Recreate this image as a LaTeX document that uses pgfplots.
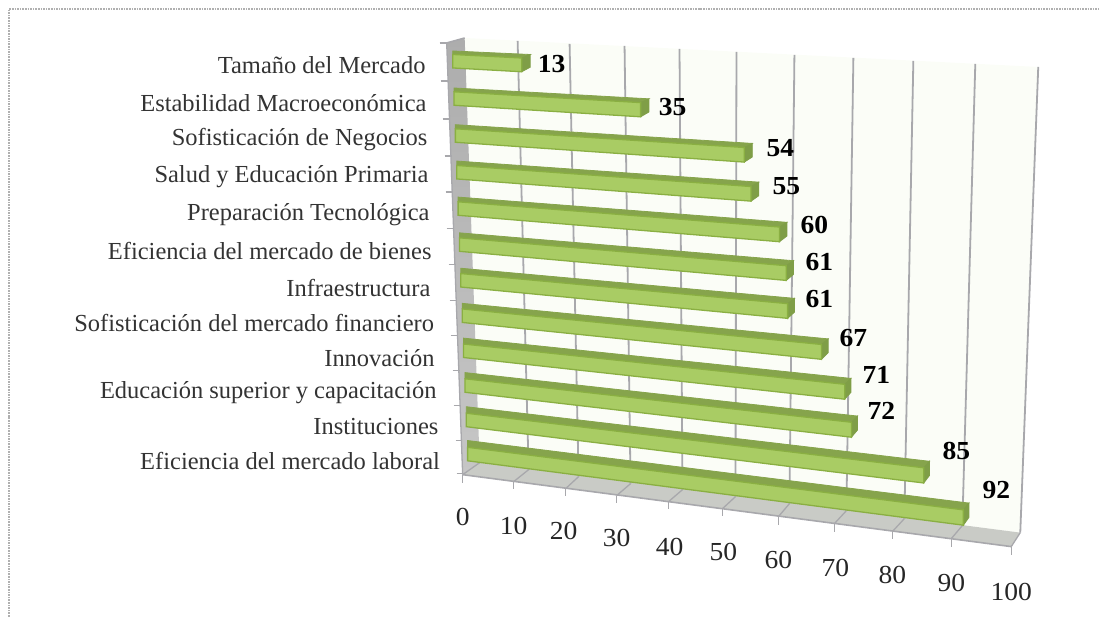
\documentclass[border=0pt]{standalone}
\usepackage{pgfplots}
\pgfplotsset{compat=1.18}
\usepackage{fontspec}
\setmainfont{Liberation Serif}
\newfontfamily\valfont[FakeStretch=1.06]{Liberation Serif Bold}
\newfontfamily\tickfont[FakeStretch=1.06]{Liberation Serif}
\definecolor{barfront}{HTML}{A9CC64}
\definecolor{bartop}{HTML}{86A44C}
\definecolor{barcap}{HTML}{7F9E47}
\definecolor{baredge}{HTML}{8AAF42}
\definecolor{wallside}{HTML}{ADADAD}
\definecolor{wallsidelow}{HTML}{C6C6C6}
\definecolor{floorc}{HTML}{C9CBC6}
\definecolor{backwall}{HTML}{FBFDF7}
\definecolor{gridc}{HTML}{A8A8AC}
\definecolor{framec}{HTML}{B0B0B0}
\definecolor{catc}{HTML}{333333}
% k = row counted from the top, #2 = value of the bar
\newcommand\drawbar[2]{%
  \pgfmathsetmacro\xa{453+1.36*#1}%
  \pgfmathsetmacro\ya{68+37.5*#1-0.16*#1*#1}%
  \pgfmathsetmacro\xb{\xa+5.3*#2+0.001*#2*#2}%
  \pgfmathsetmacro\yb{\ya+(0.055+0.0068*#1)*(\xb-\xa)}%
  \pgfmathsetmacro\ha{13.5}%
  \pgfmathsetmacro\hb{13.5+0.02*#2}%
  \pgfmathsetmacro\dx{8.5-0.27*#1}%
  \pgfmathsetmacro\dy{3.5+0.3*#1}%
  \pgfmathsetmacro\yat{\ya-\ha}%
  \pgfmathsetmacro\ybt{\yb-\hb}%
  \pgfmathsetmacro\xbc{\xb+\dx}%
  \pgfmathsetmacro\ybtc{\ybt-\dy}%
  \pgfmathsetmacro\ybbc{\yb-\dy-1}%
  \pgfmathsetmacro\yatb{\yat-\dy}%
  \addplot[fill=bartop,draw=bartop,line width=0.8pt,forget plot] coordinates {(\xa,\yat) (\xa,\yatb) (\xbc,\ybtc) (\xb,\ybt)} --cycle;
  \addplot[fill=barcap,draw=barcap,line width=0.8pt,forget plot] coordinates {(\xb,\ybt) (\xbc,\ybtc) (\xbc,\ybbc) (\xb,\yb)} --cycle;
  \addplot[fill=barfront,draw=baredge,line width=1.3pt,forget plot] coordinates {(\xa,\yat) (\xb,\ybt) (\xb,\yb) (\xa,\ya)} --cycle;
}
\newcommand\drawgrid[4]{%
  \addplot[gridc,line width=1.8pt,forget plot] coordinates {(#1,#2) (#3,#4)};
}
\newcommand\floorline[4]{%
  \addplot[gridc,line width=1.3pt,forget plot] coordinates {(#1,#2) (#3,#4)};
}
\begin{document}
\begin{tikzpicture}
\begin{axis}[
  name=a,
  scale only axis, width=1099pt, height=617pt,
  xmin=0, xmax=1099, ymin=0, ymax=617, y dir=reverse,
  hide axis, clip=false,
  nodes near coords style={anchor=center,inner sep=0pt},
]
% frame
\addplot[framec,line width=1.6pt,densely dotted,forget plot] coordinates {(9,617) (9,9) (1099,9)};
% walls
\addplot[fill=backwall,draw=none,forget plot] coordinates {(465,38) (1039,67) (1021,533) (480,463)} --cycle;
\addplot[fill=floorc,draw=none,forget plot] coordinates {(463,475) (1012,547) (1021,533) (480,463)} --cycle;
\addplot[draw=none,top color=wallside,bottom color=wallsidelow,forget plot] coordinates {(447,43) (465,38) (480,463) (463,475)} --cycle;
% grid lines on the back wall (values 0..100)
\drawgrid{518}{41}{529}{470}
\drawgrid{570}{44}{579}{477}
\drawgrid{625}{46}{631}{484}
\drawgrid{680}{49}{683}{490}
\drawgrid{737}{52}{736}{497}
\drawgrid{795}{55}{790}{504}
\drawgrid{854}{58}{847}{511}
\drawgrid{914}{61}{905}{519}
\drawgrid{976}{64}{963}{526}
\drawgrid{1039}{67}{1021}{533}
% floor lines and ticks
\floorline{514}{482}{529}{470}
\floorline{566}{489}{579}{477}
\floorline{617}{496}{631}{484}
\floorline{669}{502}{683}{490}
\floorline{723}{509}{736}{497}
\floorline{779}{517}{790}{504}
\floorline{835}{524}{847}{511}
\floorline{893}{532}{905}{519}
\floorline{952}{539}{963}{526}
\floorline{1012}{547}{1021}{533}
\floorline{463}{475}{480}{463}
\addplot[gridc,line width=1.6pt,forget plot] coordinates {(463,475) (1012,547)};
\addplot[gridc,line width=1.3pt,forget plot] coordinates {(447,43) (463,475)};
\addplot[gridc,line width=1.6pt,forget plot] coordinates {(447,43) (465,38)};
\floorline{463}{475}{463}{483}
\floorline{514}{482}{514}{489}
\floorline{566}{489}{566}{496}
\floorline{617}{496}{617}{503}
\floorline{669}{502}{669}{509}
\floorline{723}{509}{723}{516}
\floorline{779}{517}{779}{525}
\floorline{835}{524}{835}{532}
\floorline{893}{532}{893}{539}
\floorline{952}{539}{952}{547}
\floorline{1012}{547}{1012}{555}
% left ticks
\floorline{440}{43}{447}{43}
\floorline{441}{81}{448}{81}
\floorline{443}{119}{450}{119}
\floorline{445}{156}{452}{156}
\floorline{446}{192}{453}{192}
\floorline{447}{229}{454}{229}
\floorline{449}{265}{456}{265}
\floorline{450}{301}{457}{301}
\floorline{451}{336}{458}{336}
\floorline{453}{371}{460}{371}
\floorline{454}{406}{461}{406}
\floorline{456}{441}{462}{441}
\floorline{457}{474}{463}{474}
% bars
\drawbar{0}{13}
\drawbar{1}{35}
\drawbar{2}{54}
\drawbar{3}{55}
\drawbar{4}{60}
\drawbar{5}{61}
\drawbar{6}{61}
\drawbar{7}{67}
\drawbar{8}{71}
\drawbar{9}{72}
\drawbar{10}{85}
\drawbar{11}{92}
% value labels
\pgfplotsset{val/.style={draw=none,mark=none,forget plot,nodes near coords={#1},nodes near coords style={font=\valfont\fontsize{26}{26}\selectfont,text=black,anchor=center,inner sep=0pt}}}
\addplot[val=13] coordinates {(552,64.5)};
\addplot[val=35] coordinates {(673,107)};
\addplot[val=54] coordinates {(781,148)};
\addplot[val=55] coordinates {(787,186)};
\addplot[val=60] coordinates {(815,225)};
\addplot[val=61] coordinates {(820,262)};
\addplot[val=61] coordinates {(820,299)};
\addplot[val=67] coordinates {(854,338)};
\addplot[val=71] coordinates {(877,375)};
\addplot[val=72] coordinates {(882,411)};
\addplot[val=85] coordinates {(957,451)};
\addplot[val=92] coordinates {(997,490)};
% axis numbers
\pgfplotsset{tk/.style={draw=none,mark=none,forget plot,nodes near coords={#1},nodes near coords style={font=\tickfont\fontsize{26}{26}\selectfont,text=black!85,anchor=center,inner sep=0pt}}}
\addplot[tk=0] coordinates {(463,517)};
\addplot[tk=10] coordinates {(514,526)};
\addplot[tk=20] coordinates {(564,531)};
\addplot[tk=30] coordinates {(617,538)};
\addplot[tk=40] coordinates {(670,547)};
\addplot[tk=50] coordinates {(724,552)};
\addplot[tk=60] coordinates {(779,560)};
\addplot[tk=70] coordinates {(836,568)};
\addplot[tk=80] coordinates {(893,575)};
\addplot[tk=90] coordinates {(952,583)};
\addplot[tk=100] coordinates {(1012,592)};
% category names
\pgfplotsset{cat/.style={draw=none,mark=none,forget plot,nodes near coords={#1},nodes near coords style={font=\fontsize{24.5}{24.5}\selectfont,text=catc,anchor=east,inner sep=0pt}}}
\addplot[cat={Tamaño del Mercado}] coordinates {(426,65)};
\addplot[cat={Estabilidad Macroeconómica}] coordinates {(427,103)};
\addplot[cat={Sofisticación de Negocios}] coordinates {(428,140)};
\addplot[cat={Salud y Educación Primaria}] coordinates {(429,177)};
\addplot[cat={Preparación Tecnológica}] coordinates {(430,215)};
\addplot[cat={Eficiencia del mercado de bienes}] coordinates {(432,251)};
\addplot[cat={Infraestructura}] coordinates {(431,288)};
\addplot[cat={Sofisticación del mercado financiero}] coordinates {(434.5,323)};
\addplot[cat={Innovación}] coordinates {(435,358)};
\addplot[cat={Educación superior y capacitación}] coordinates {(437,393)};
\addplot[cat={Instituciones}] coordinates {(439,427)};
\addplot[cat={Eficiencia del mercado laboral}] coordinates {(440.5,461)};
\end{axis}
\path (a.south west) rectangle (a.north east);
\end{tikzpicture}
\end{document}
